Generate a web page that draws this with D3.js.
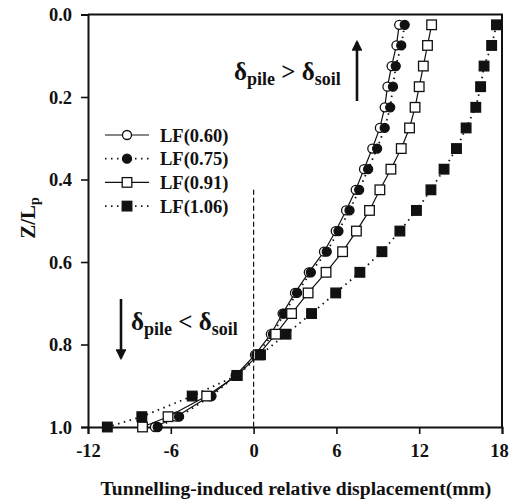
<!DOCTYPE html>
<html>
<head>
<meta charset="utf-8">
<script src="https://cdn.jsdelivr.net/npm/d3@7/dist/d3.min.js"></script>
<style>
  html, body { margin: 0; padding: 0; background: #fff; }
  svg { display: block; }
  text { font-family: "Liberation Serif", "Times New Roman", serif; font-weight: bold; fill: #111; }
</style>
</head>
<body>
<svg id="chart" width="510" height="504"></svg>
<script>
// Normalised depth along the pile (Z/Lp)
const depth = [0.025, 0.075, 0.125, 0.175, 0.225, 0.275, 0.325, 0.375, 0.425, 0.475,
               0.525, 0.575, 0.625, 0.675, 0.725, 0.775, 0.825, 0.875, 0.925, 0.975, 1.0];

// Relative displacement (mm) for each load factor
const lf060 = [10.55, 10.35, 10.0, 9.7, 9.5, 9.15, 8.6, 8.0, 7.4, 6.7,
               5.95, 5.1, 4.0, 3.0, 2.1, 1.25, 0.1, -1.3, -3.2, -5.6, -7.15];
const lf075 = [10.95, 10.7, 10.3, 10.1, 9.9, 9.5, 8.95, 8.3, 7.65, 6.95,
               6.15, 5.3, 4.15, 3.15, 2.2, 1.4, 0.2, -1.25, -3.05, -5.4, -6.95];
const lf091 = [12.9, 12.6, 12.3, 12.0, 11.7, 11.3, 10.7, 9.95, 9.15, 8.4,
               7.45, 6.45, 5.25, 3.95, 2.75, 1.6, 0.35, -1.2, -3.4, -6.2, -8.05];
const lf106 = [17.6, 17.25, 16.7, 16.45, 16.1, 15.4, 14.7, 13.8, 12.85, 11.8,
               10.6, 9.3, 7.7, 5.95, 4.2, 2.35, 0.5, -1.2, -4.45, -8.1, -10.6];

const seriesNames = ["LF(0.60)", "LF(0.75)", "LF(0.91)", "LF(1.06)"];
const xTicks = [-12, -6, 0, 6, 12, 18];
const yTicks = [0.0, 0.2, 0.4, 0.6, 0.8, 1.0];

const series = [
  { name: seriesNames[0], values: lf060, shape: "circle", filled: false, dotted: false },
  { name: seriesNames[1], values: lf075, shape: "circle", filled: true,  dotted: true  },
  { name: seriesNames[2], values: lf091, shape: "square", filled: false, dotted: false },
  { name: seriesNames[3], values: lf106, shape: "square", filled: true,  dotted: true  }
];

const svg = d3.select("#chart");
const margin = { left: 88, right: 8, top: 14.5, bottom: 77 };
const W = 510, H = 504;

const x = d3.scaleLinear().domain([-12, 18]).range([margin.left, W - margin.right]);
const y = d3.scaleLinear().domain([0, 1]).range([margin.top, H - margin.bottom]);

const fmtX = d => String(d).replace("\u2212", "-");
const fmtY = d => d3.format(".1f")(d);

// Dashed reference line at zero displacement
svg.append("line")
  .attr("x1", x(0)).attr("x2", x(0))
  .attr("y1", y(0.425)).attr("y2", y(1))
  .attr("stroke", "#111").attr("stroke-width", 1.2)
  .attr("stroke-dasharray", "5,3");

// Axes
const xAxis = svg.append("g")
  .attr("transform", `translate(0,${y(1)})`)
  .call(d3.axisBottom(x).tickValues(xTicks).tickFormat(fmtX).tickSize(7).tickPadding(6));
const yAxis = svg.append("g")
  .attr("transform", `translate(${x(-12)},0)`)
  .call(d3.axisLeft(y).tickValues(yTicks).tickFormat(fmtY).tickSize(7).tickPadding(9));

[xAxis, yAxis].forEach(g => {
  g.select(".domain").attr("stroke", "#111").attr("stroke-width", 2);
  g.selectAll(".tick line").attr("stroke", "#111").attr("stroke-width", 1.6);
  g.selectAll(".tick text").attr("font-size", 18.5).attr("fill", "#111")
    .style("font-family", "'Liberation Serif', serif").style("font-weight", "bold");
});
yAxis.selectAll(".tick text").attr("dy", "0.35em");
xAxis.selectAll(".tick text").attr("dy", "0.9em");
// keep the last x label inside the canvas
xAxis.selectAll(".tick text").filter(d => d === 18).attr("dx", -3);

// Top and right frame lines
svg.append("path")
  .attr("d", `M${x(-12)},${y(0)}H${x(18)}V${y(1)}`)
  .attr("fill", "none").attr("stroke", "#111").attr("stroke-width", 2);

// Series lines and markers
const line = d3.line().x(d => x(d[0])).y(d => y(d[1]));

function drawMarker(g, s, cx, cy) {
  if (s.shape === "circle") {
    g.append("circle").attr("cx", cx).attr("cy", cy).attr("r", 4.5)
      .attr("fill", s.filled ? "#111" : "#fff").attr("stroke", "#111").attr("stroke-width", 1.3);
  } else {
    g.append("rect").attr("x", cx - 4.8).attr("y", cy - 4.8).attr("width", 9.6).attr("height", 9.6)
      .attr("fill", s.filled ? "#111" : "#fff").attr("stroke", "#111").attr("stroke-width", 1.3);
  }
}

series.forEach(s => {
  const pts = s.values.map((v, i) => [v, depth[i]]);
  const g = svg.append("g");
  g.append("path").attr("d", line(pts))
    .attr("fill", "none").attr("stroke", "#111")
    .attr("stroke-width", s.dotted ? 1.8 : 1.2)
    .attr("stroke-dasharray", s.dotted ? "1.5,4.5" : null);
  pts.forEach(p => drawMarker(g, s, x(p[0]), y(p[1])));
});

// Legend
const legend = svg.append("g");
series.forEach((s, i) => {
  const ly = 135 + i * 23.7;
  legend.append("line").attr("x1", 105).attr("x2", 149).attr("y1", ly).attr("y2", ly)
    .attr("stroke", "#111")
    .attr("stroke-width", s.dotted ? 1.8 : 1.2)
    .attr("stroke-dasharray", s.dotted ? "1.5,4.5" : null);
  drawMarker(legend, s, 127, ly);
  legend.append("text").attr("x", 160).attr("y", ly + 6.5).attr("font-size", 18.5).text(s.name);
});

// Arrowhead marker
svg.append("defs").append("marker")
  .attr("id", "head").attr("viewBox", "0 0 10 10")
  .attr("refX", 8).attr("refY", 5)
  .attr("markerWidth", 4.2).attr("markerHeight", 4.2)
  .attr("markerUnits", "strokeWidth")
  .attr("orient", "auto")
  .append("path").attr("d", "M0,0L10,5L0,10Z").attr("fill", "#111");

// Upward arrow: pile moves more than soil
svg.append("line").attr("x1", 357).attr("x2", 357).attr("y1", 101).attr("y2", 42)
  .attr("stroke", "#111").attr("stroke-width", 2.6).attr("marker-end", "url(#head)");
const t1 = svg.append("text").attr("x", 234).attr("y", 80).attr("font-size", 25);
t1.append("tspan").text("δ");
t1.append("tspan").attr("font-size", 18).attr("dy", 5).text("pile");
t1.append("tspan").attr("dy", -5).text(" > δ");
t1.append("tspan").attr("font-size", 18).attr("dy", 5).text("soil");

// Downward arrow: soil moves more than pile
svg.append("line").attr("x1", 121).attr("x2", 121).attr("y1", 299).attr("y2", 358)
  .attr("stroke", "#111").attr("stroke-width", 2.6).attr("marker-end", "url(#head)");
const t2 = svg.append("text").attr("x", 131).attr("y", 330).attr("font-size", 25);
t2.append("tspan").text("δ");
t2.append("tspan").attr("font-size", 18).attr("dy", 5).text("pile");
t2.append("tspan").attr("dy", -5).text(" < δ");
t2.append("tspan").attr("font-size", 18).attr("dy", 5).text("soil");

// Axis titles
svg.append("text").attr("x", 296).attr("y", 495).attr("text-anchor", "middle")
  .attr("font-size", 19.6).text("Tunnelling-induced relative displacement(mm)");

const yt = svg.append("text").attr("transform", "translate(35,218) rotate(-90)")
  .attr("text-anchor", "middle").attr("font-size", 21);
yt.append("tspan").text("Z/L");
yt.append("tspan").attr("font-size", 14).attr("dy", 4).text("p");
</script>
</body>
</html>
